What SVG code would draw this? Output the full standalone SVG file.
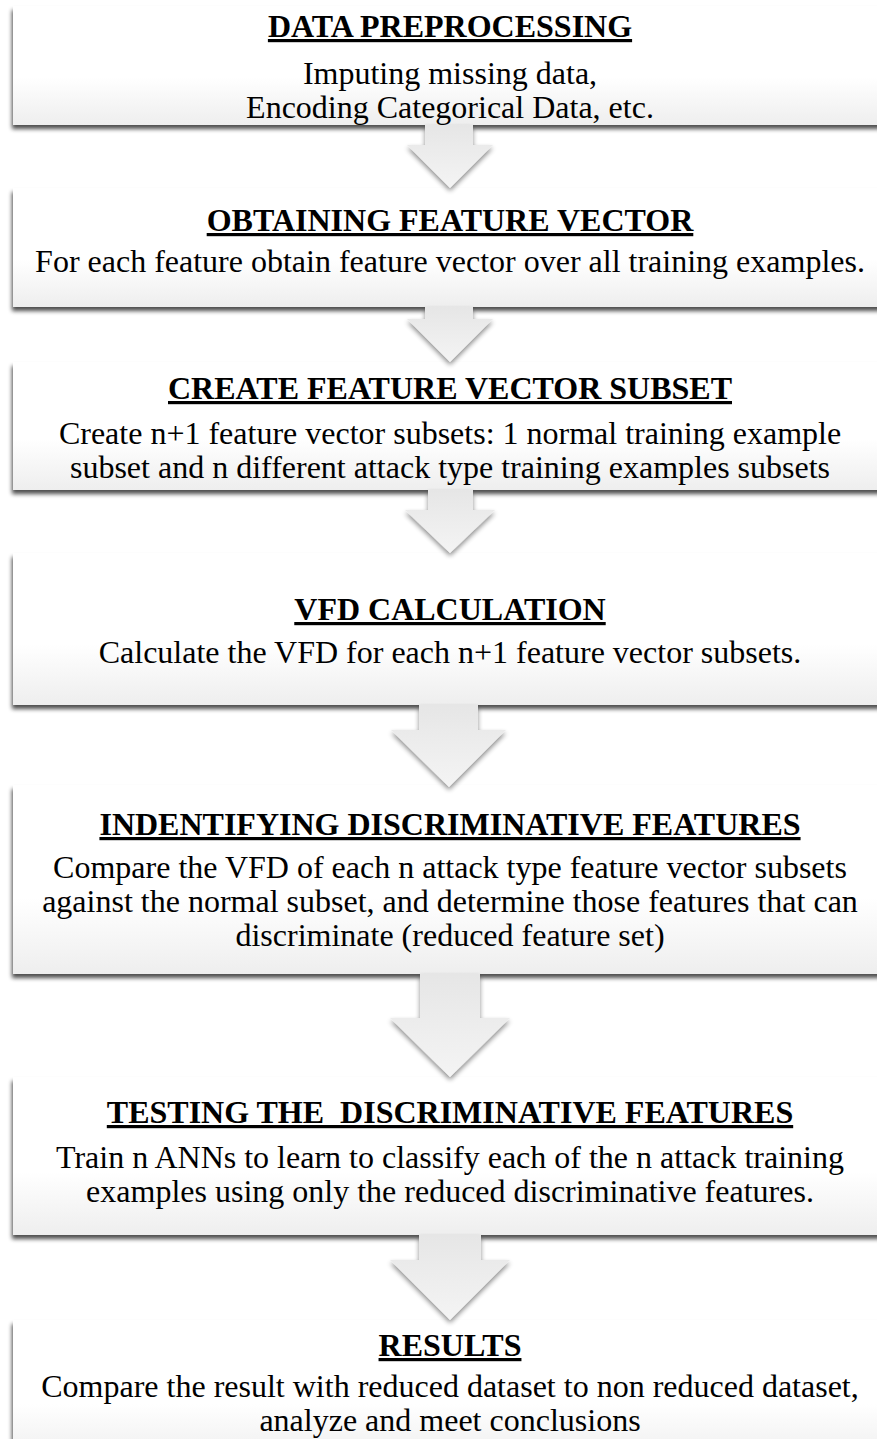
<svg xmlns="http://www.w3.org/2000/svg" width="877" height="1439" viewBox="0 0 877 1439">
  <defs>
    <linearGradient id="boxFill" x1="0" y1="0" x2="0" y2="1">
      <stop offset="0" stop-color="#ffffff"/>
      <stop offset="0.6" stop-color="#ffffff"/>
      <stop offset="1" stop-color="#eeeeee"/>
    </linearGradient>
    <linearGradient id="arrowFill" x1="0" y1="0" x2="0" y2="1">
      <stop offset="0" stop-color="#e6e6e6"/>
      <stop offset="1" stop-color="#f4f4f4"/>
    </linearGradient>
    <filter id="shadow" x="-5%" y="-10%" width="110%" height="130%">
      <feGaussianBlur in="SourceAlpha" stdDeviation="2.2"/>
      <feOffset dx="-1" dy="4" result="blur"/>
      <feComponentTransfer><feFuncA type="linear" slope="0.7"/></feComponentTransfer>
      <feMerge><feMergeNode/><feMergeNode in="SourceGraphic"/></feMerge>
    </filter>
    <filter id="arrowShadow" x="-20%" y="-20%" width="140%" height="150%">
      <feGaussianBlur in="SourceAlpha" stdDeviation="2.5"/>
      <feOffset dx="0" dy="3"/>
      <feComponentTransfer><feFuncA type="linear" slope="0.45"/></feComponentTransfer>
      <feMerge><feMergeNode/><feMergeNode in="SourceGraphic"/></feMerge>
    </filter>
  </defs>
  <style>
    .box { fill: url(#boxFill); filter: url(#shadow); }
    .arrow { fill: url(#arrowFill); filter: url(#arrowShadow); }
    text { font-family: "Liberation Serif", "Times New Roman", serif; font-size: 32px; fill: #000; text-anchor: middle; }
    .title { font-weight: bold; text-decoration: underline; white-space: pre; }
  </style>

  <rect width="877" height="1439" fill="#ffffff"/>

  <g id="step-preprocessing">
    <rect class="box" x="13" y="6" width="880" height="119"/>
    <text class="title" x="450" y="37">DATA PREPROCESSING</text>
    <text x="450" y="84">Imputing missing data,</text>
    <text x="450" y="118">Encoding Categorical Data, etc.</text>
  </g>

  <g id="step-feature-vector">
    <rect class="box" x="13" y="188" width="880" height="119"/>
    <text class="title" x="450" y="231">OBTAINING FEATURE VECTOR</text>
    <text x="450" y="272">For each feature obtain feature vector over all training examples.</text>
  </g>

  <g id="step-subsets">
    <rect class="box" x="13" y="362" width="880" height="128"/>
    <text class="title" x="450" y="399">CREATE FEATURE VECTOR SUBSET</text>
    <text x="450" y="444">Create n+1 feature vector subsets: 1 normal training example</text>
    <text x="450" y="478">subset and n different attack type training examples subsets</text>
  </g>

  <g id="step-vfd">
    <rect class="box" x="13" y="553" width="880" height="152"/>
    <text class="title" x="450" y="620">VFD CALCULATION</text>
    <text x="450" y="663">Calculate the VFD for each n+1 feature vector subsets.</text>
  </g>

  <g id="step-discriminative">
    <rect class="box" x="13" y="785" width="880" height="189"/>
    <text class="title" x="450" y="835">INDENTIFYING DISCRIMINATIVE FEATURES</text>
    <text x="450" y="878">Compare the VFD of each n attack type feature vector subsets</text>
    <text x="450" y="912">against the normal subset, and determine those features that can</text>
    <text x="450" y="946">discriminate (reduced feature set)</text>
  </g>

  <g id="step-testing">
    <rect class="box" x="13" y="1077" width="880" height="158"/>
    <text class="title" x="450" y="1123">TESTING THE  DISCRIMINATIVE FEATURES</text>
    <text x="450" y="1168">Train n ANNs to learn to classify each of the n attack training</text>
    <text x="450" y="1202">examples using only the reduced discriminative features.</text>
  </g>

  <g id="step-results">
    <rect class="box" x="13" y="1320" width="880" height="140"/>
    <text class="title" x="450" y="1356">RESULTS</text>
    <text x="450" y="1397">Compare the result with reduced dataset to non reduced dataset,</text>
    <text x="450" y="1431">analyze and meet conclusions</text>
  </g>

  <g id="connectors">
    <polygon class="arrow" points="425,125 473,125 473,145 493,145 450,188 407,145 425,145"/>
    <polygon class="arrow" points="425,307 473,307 473,319 493,319 450,362 407,319 425,319"/>
    <polygon class="arrow" points="428,490 473,490 473,510 495,510 450,553 405,510 428,510"/>
    <polygon class="arrow" points="419,705 478,705 478,730 506,730 449,787 391,730 419,730"/>
    <polygon class="arrow" points="420,974 480,974 480,1018 510,1018 450,1077 390,1018 420,1018"/>
    <polygon class="arrow" points="419,1235 481,1235 481,1260 510,1260 450,1320 390,1260 419,1260"/>
  </g>
</svg>
